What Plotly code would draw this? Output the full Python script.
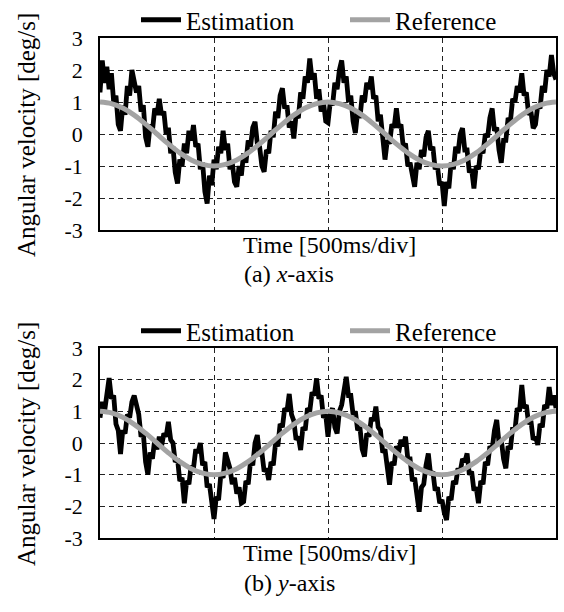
import plotly.graph_objects as go

# Time base of the recordings (ms), 500 ms per grid division
time_ms = list(range(0, 2001, 10))
ref_time_ms = list(range(0, 2001, 50))

# Angular velocity estimate and reference, x-axis (deg/s)
est_x = [
    1.3, 2.3, 1.6, 2.1, 1.4, 1.9, 1.0, 1.2, 0.3, 0.1,
    0.9, 0.6, 1.5, 1.2, 2.0, 1.6, 1.3, 1.5, 0.7, 0.9,
    -0.1, -0.4, 0.3, 0.1, 0.8, 0.6, 1.1, 0.6, 0.7, 0.0,
    0.2, -0.6, -0.4, -1.2, -1.55, -0.8, -1.0, -0.3, -0.6, 0.1,
    -0.2, 0.28, -0.4, -0.3, -1.1, -0.9, -1.8, -2.17, -1.3, -1.6,
    -0.8, -1.1, -0.4, -0.6, 0.1, -0.5, -0.3, -1.1, -0.9, -1.5,
    -1.65, -1.0, -1.3, -0.6, -0.9, -0.2, -0.4, 0.2, 0.38, -0.3,
    -0.4, -1.0, -1.18, -0.5, -0.6, 0.1, -0.1, 0.7, 0.5, 1.2,
    1.43, 0.8, 0.9, 0.2, 0.4, -0.14, 0.6, 0.5, 1.3, 1.1,
    1.8, 1.6, 2.36, 1.7, 1.9, 1.1, 1.4, 0.7, 1.0, 0.4,
    0.35, 1.0, 0.9, 1.6, 1.4, 2.0, 2.3, 1.6, 1.8, 1.0,
    1.2, 0.4, 0.03, 0.7, 0.5, 1.2, 1.0, 1.6, 1.4, 1.8,
    1.1, 1.2, 0.4, 0.6, -0.3, -0.8, -0.2, -0.3, 0.3, 0.2,
    0.8, 0.2, 0.3, -0.4, -0.3, -1.0, -0.9, -1.4, -1.65, -0.9,
    -1.1, -0.5, -0.7, -0.1, 0.1, -0.5, -0.4, -1.1, -1.0, -1.6,
    -1.5, -2.25, -1.5, -1.7, -0.9, -1.1, -0.4, -0.6, 0.0, 0.18,
    -0.5, -0.5, -1.2, -1.1, -1.7, -1.0, -1.1, -0.5, -0.6, 0.0,
    -0.1, 0.5, 0.8, 0.1, 0.2, -0.5, -0.9, -0.2, -0.2, 0.5,
    0.4, 1.1, 1.0, 1.5, 1.3, 1.9, 1.2, 1.3, 0.6, 0.7,
    0.18, 0.3, 0.9, 0.8, 1.5, 1.3, 2.0, 1.8, 2.47, 1.9,
    1.7,
]

# Angular velocity estimate, y-axis (deg/s)
est_y = [
    0.8, 1.3, 1.0, 1.7, 2.05, 1.4, 1.5, 0.6, 0.4, -0.35,
    0.4, 0.3, 0.9, 0.8, 1.3, 1.5, 1.1, 0.9, 0.2, 0.3,
    -0.6, -1.0, -0.3, -0.5, 0.1, -0.2, 0.2, -0.1, 0.3, 0.2,
    0.67, 0.1, 0.0, -0.6, -0.5, -1.2, -1.1, -1.9, -1.2, -1.3,
    -0.7, -0.8, -0.2, -0.3, 0.0, -0.7, -0.6, -1.4, -1.3, -2.0,
    -2.4, -1.7, -1.8, -1.0, -1.1, -0.3, -0.6, -0.8, -1.3, -1.1,
    -1.6, -1.4, -1.9, -1.85, -1.2, -1.3, -0.6, -0.7, 0.0, 0.25,
    -0.4, -0.3, -0.9, -0.8, -1.17, -0.6, -0.7, 0.0, -0.1, 0.6,
    0.5, 1.1, 1.0, 1.55, 0.9, 0.7, 0.1, 0.2, -0.22, 0.5,
    0.4, 1.1, 1.0, 1.6, 1.5, 2.04, 1.4, 1.5, 0.8, 0.9,
    0.2, 0.9, 1.1, 0.5, 0.3, 1.0, 1.2, 1.7, 2.09, 1.5,
    1.5, 0.9, 1.0, 0.4, 0.5, -0.2, -0.43, 0.3, 0.2, 0.8,
    0.7, 1.15, 0.5, 0.4, -0.3, -0.2, -0.9, -1.32, -0.6, -0.7,
    -0.1, -0.3, 0.1, -0.1, 0.2, -0.5, -0.5, -1.2, -1.1, -1.7,
    -2.17, -1.4, -1.3, -0.7, -0.33, -1.0, -0.9, -1.5, -1.4, -1.9,
    -1.8, -2.2, -2.43, -1.7, -1.8, -1.2, -1.3, -0.8, -0.9, -0.5,
    -0.6, -0.33, -1.0, -0.9, -1.5, -1.4, -1.9, -1.2, -1.3, -0.6,
    -0.7, -0.1, -0.2, 0.4, 0.73, 0.0, 0.1, -0.5, -0.8, -0.1,
    -0.2, 0.5, 0.4, 1.1, 1.0, 1.83, 1.1, 1.2, 0.6, 0.7,
    0.1, 0.2, -0.06, 0.6, 0.5, 1.2, 1.1, 1.77, 1.2, 1.5,
    1.1,
]

# Commanded reference rate (deg/s), same for both axes
ref_rate = [
    1.0, 0.95, 0.81, 0.59, 0.31, 0.0, -0.31, -0.59, -0.81, -0.95,
    -1.0, -0.95, -0.81, -0.59, -0.31, 0.0, 0.31, 0.59, 0.81, 0.95,
    1.0, 0.95, 0.81, 0.59, 0.31, 0.0, -0.31, -0.59, -0.81, -0.95,
    -1.0, -0.95, -0.81, -0.59, -0.31, 0.0, 0.31, 0.59, 0.81, 0.95,
    1.0,
]

y_ticks = [-3, -2, -1, 0, 1, 2, 3]
y_tick_text = ["-3", "-2", "-1", "0", "1", "2", "3"]

W, H = 564, 612
FONT = "Liberation Serif"
GRAY = "#a3a3a3"
TEXT_SIZE = 24


def px_x(p):
    return p / W


def px_y(p):
    return 1 - p / H


fig = go.Figure()

panels = [
    ("x", "y", "legend", est_x, "(a) <i>x</i>-axis"),
    ("x2", "y2", "legend2", est_y, "(b) <i>y</i>-axis"),
]

for xa, ya, lg, est, _ in panels:
    fig.add_trace(go.Scatter(x=time_ms, y=est, mode="lines", xaxis=xa, yaxis=ya,
                             line=dict(color="black", width=4.8), showlegend=False))
    fig.add_trace(go.Scatter(x=ref_time_ms, y=ref_rate, mode="lines", xaxis=xa, yaxis=ya,
                             line=dict(color=GRAY, width=5, shape="spline"), showlegend=False))
    # legend keys drawn with heavier strokes
    fig.add_trace(go.Scatter(x=[None], y=[None], mode="lines", xaxis=xa, yaxis=ya,
                             name="Estimation", legend=lg,
                             line=dict(color="black", width=5)))
    fig.add_trace(go.Scatter(x=[None], y=[None], mode="lines", xaxis=xa, yaxis=ya,
                             name="Reference", legend=lg,
                             line=dict(color=GRAY, width=5)))

xaxis_style = dict(range=[0, 2000], dtick=500, tick0=0, showticklabels=False,
                   showgrid=True, gridcolor="#222", gridwidth=1, griddash="5px,4px",
                   zeroline=False, showline=True, linecolor="black", linewidth=1.5,
                   mirror=True, ticks="", fixedrange=True)
yaxis_style = dict(range=[-3, 3], tickvals=y_ticks, ticktext=y_tick_text,
                   showgrid=True, gridcolor="#222", gridwidth=1, griddash="5px,4px",
                   zeroline=False, showline=True, linecolor="black", linewidth=1.5,
                   mirror=True, ticks="", ticklabelstandoff=11,
                   tickfont=dict(family=FONT, size=22, color="black"), fixedrange=True)

plot_left, plot_right = 100, 556
panel_rows = [(38, 230), (348, 538)]

legend_style = dict(orientation="h", xanchor="left", yanchor="middle",
                    itemwidth=40, entrywidth=154, bgcolor="rgba(0,0,0,0)",
                    font=dict(family=FONT, size=25))

fig.update_layout(
    width=W, height=H,
    margin=dict(l=0, r=0, t=0, b=0, autoexpand=False),
    paper_bgcolor="white", plot_bgcolor="white",
    font=dict(family=FONT, size=TEXT_SIZE, color="black"),
    xaxis=dict(domain=[px_x(plot_left), px_x(plot_right)], anchor="y", **xaxis_style),
    yaxis=dict(domain=[px_y(panel_rows[0][1]), px_y(panel_rows[0][0])], anchor="x", **yaxis_style),
    xaxis2=dict(domain=[px_x(plot_left), px_x(plot_right)], anchor="y2", **xaxis_style),
    yaxis2=dict(domain=[px_y(panel_rows[1][1]), px_y(panel_rows[1][0])], anchor="x2", **yaxis_style),
    legend=dict(x=px_x(136), y=px_y(20), **legend_style),
    legend2=dict(x=px_x(136), y=px_y(331), **legend_style),
)

annotations = []
caption_offsets = [44, 45]
for (top, bottom), (_, _, _, _, caption), cap_off in zip(panel_rows, panels, caption_offsets):
    mid = (top + bottom) / 2
    annotations.append(dict(text="Angular velocity [deg/s]", xref="paper", yref="paper",
                            x=px_x(26), y=px_y(mid + 1), textangle=-90, showarrow=False,
                            xanchor="center", yanchor="middle", font=dict(size=25)))
    annotations.append(dict(text="Time [500ms/div]", xref="paper", yref="paper",
                            x=px_x(329), y=px_y(bottom + 15), showarrow=False,
                            xanchor="center", yanchor="middle", font=dict(size=TEXT_SIZE)))
    annotations.append(dict(text=caption, xref="paper", yref="paper",
                            x=px_x(289), y=px_y(bottom + cap_off), showarrow=False,
                            xanchor="center", yanchor="middle", font=dict(size=TEXT_SIZE)))
fig.update_layout(annotations=annotations)

fig.write_html("out.html")
